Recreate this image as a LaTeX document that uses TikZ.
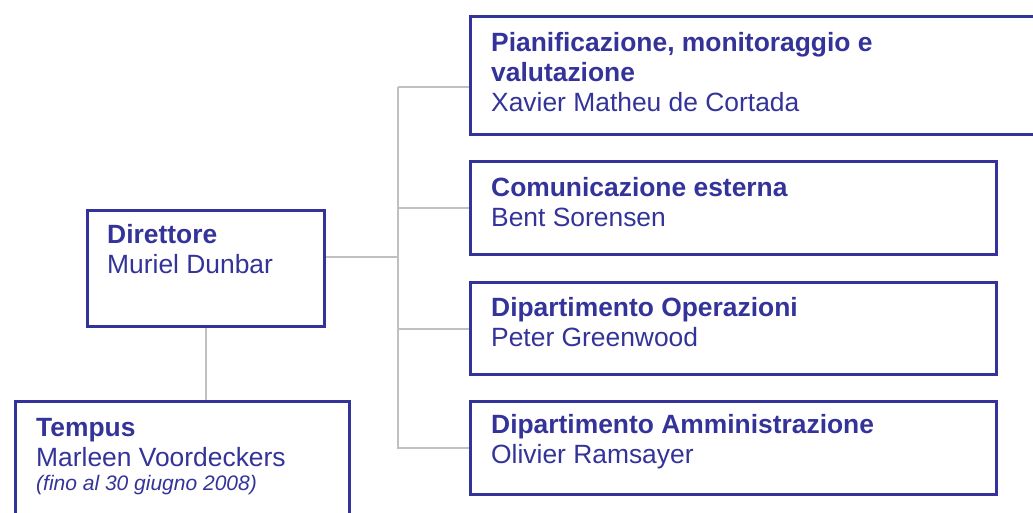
\documentclass[tikz,border=0pt]{standalone}
\usepackage{fontspec}
\setmainfont{Liberation Sans}
\definecolor{orgblue}{HTML}{333399}
\definecolor{linkgray}{HTML}{C0C0C0}
\begin{document}
\begin{tikzpicture}[x=1pt,y=-1pt,
    box/.style={draw=orgblue,line width=3.4pt,fill=white,anchor=north west,inner sep=0pt},
    txt/.style={anchor=base west,align=left,inner sep=0pt,text=orgblue,font=\fontsize{26.4}{30}\selectfont},
    link/.style={draw=linkgray,line width=2.2pt}]
    \clip (0,0) rectangle (1033,513);
    \node[box,minimum width=237pt,minimum height=116pt] (dir) at (86,209) {};
    \node[box,minimum width=334pt,minimum height=140pt] (tem) at (14,400) {};
    \node[box,minimum width=591pt,minimum height=118pt] (pia) at (469,15) {};
    \node[box,minimum width=526pt,minimum height=93pt] (com) at (469,160) {};
    \node[box,minimum width=526pt,minimum height=92pt] (ope) at (469,281) {};
    \node[box,minimum width=526pt,minimum height=93pt] (amm) at (469,400) {};
    \node[txt] (dirtxt) at (107,273) {\textbf{Direttore}\\Muriel Dunbar};
    \node[txt] (temtxt) at (36,490) {\textbf{Tempus}\\Marleen Voordeckers\\[-6pt]{\fontsize{21}{24}\selectfont\itshape (fino al 30 giugno 2008)}};
    \node[txt] (piatxt) at (491,111.7) {\textbf{Pianificazione, monitoraggio e}\\\textbf{valutazione}\\Xavier Matheu de Cortada};
    \node[txt] (comtxt) at (491,226.7) {\textbf{Comunicazione esterna}\\Bent Sorensen};
    \node[txt] (opetxt) at (491,346) {\textbf{Dipartimento Operazioni}\\Peter Greenwood};
    \node[txt] (ammtxt) at (491,463) {\textbf{Dipartimento Amministrazione}\\Olivier Ramsayer};
    \coordinate (top) at (398,87);
    \draw[link] (top) |- (amm.west);
    \draw[link] (top) -- (top -| pia.west);
    \draw[link] (com.west) -- (com.west -| top);
    \draw[link] (ope.west) -- (ope.west -| top);
    \draw[link] ([yshift=12pt]dir.east) -- ([yshift=12pt]dir.east -| top);
    \draw[link] (dir.south) -- (dir.south |- tem.north);
\end{tikzpicture}
\end{document}
